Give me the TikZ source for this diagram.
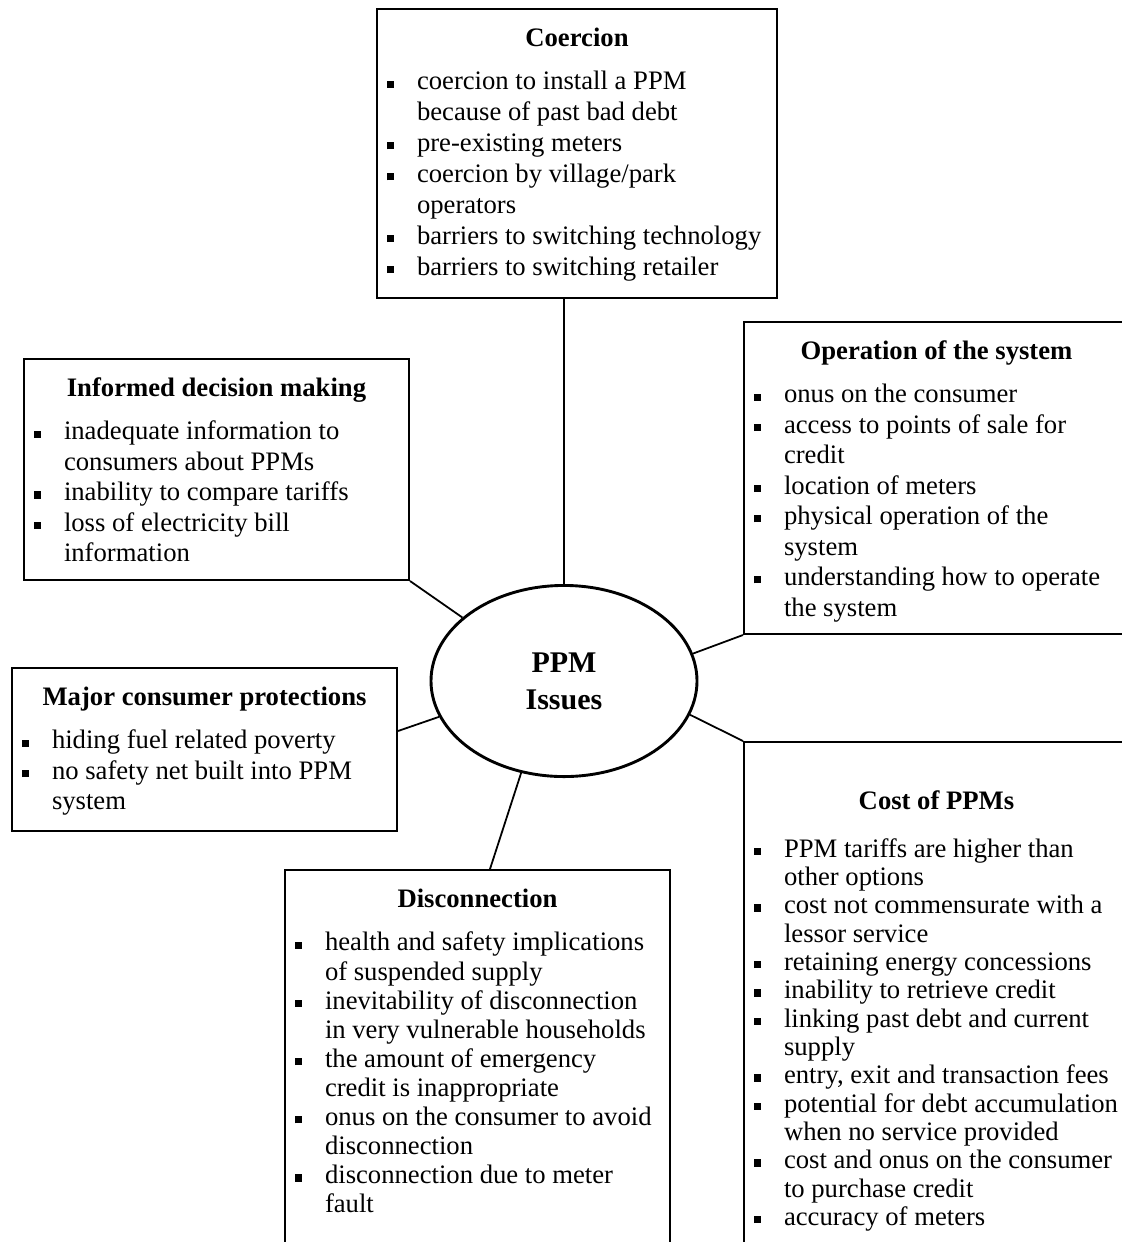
\documentclass[tikz,border=0pt]{standalone}
\usepackage{fontspec}
\setmainfont{Liberation Serif}
\usetikzlibrary{positioning}
\usetikzlibrary{calc}
\usetikzlibrary{shapes.geometric}

% one bullet line of a box, later lines hang under the text
\newcommand{\itm}[1]{\par\noindent\hangindent=18pt\hangafter=1%
  \hspace*{4.5pt}\makebox[13.5pt][l]{\rule[1pt]{3.2pt}{3.2pt}}#1\par}
% box body: [heading drop], height, width, gap, heading, items
\newcommand{\boxbody}[6][17pt]{\begin{minipage}[t][#2][t]{#3}%
  {\centering\rule{0pt}{#1}\textbf{#5}\par}\vspace{#4}#6\end{minipage}}

\begin{document}
\begin{tikzpicture}[
        x=0.45pt, y=-0.45pt,
        box/.style={draw, line width=0.9pt, inner sep=0pt, anchor=north west,
                    font=\fontsize{12}{13.7}\selectfont},
        hub/.style={draw, ellipse, line width=1.3pt, inner sep=0pt,
                    minimum width=119.7pt, minimum height=86pt, align=center,
                    font=\bfseries\fontsize{13.5}{16.7}\selectfont},
        link/.style={line width=0.8pt}
    ]
        \useasboundingbox (0,0) rectangle (1122,1242);
        \clip (0,0) rectangle (1122,1242);

        \node[hub] (ppm) at (564,681) {PPM\\Issues};

        \node[box, font=\fontsize{12}{13.9}\selectfont] (coer) at (376,8)
            {\boxbody{130.05pt}{180pt}{5.5pt}{Coercion}{%
            \itm{coercion to install a PPM\\because of past bad debt}
            \itm{pre-existing meters}
            \itm{coercion by village/park\\operators}
            \itm{barriers to switching technology}
            \itm{barriers to switching retailer}}};
        \node[box] (info) at (23,358)
            {\boxbody{99.45pt}{173.25pt}{5.7pt}{Informed decision making}{%
            \itm{inadequate information to\\consumers about PPMs}
            \itm{inability to compare tariffs}
            \itm{loss of electricity bill\\information}}};
        \node[box] (oper) at (743,321)
            {\boxbody{140.4pt}{173.25pt}{5.7pt}{Operation of the system}{%
            \itm{onus on the consumer}
            \itm{access to points of sale for\\credit}
            \itm{location of meters}
            \itm{physical operation of the\\system}
            \itm{understanding how to operate\\the system}}};
        \node[box] (prot) at (11,667)
            {\boxbody{73.35pt}{173.25pt}{5.7pt}{Major consumer protections}{%
            \itm{hiding fuel related poverty}
            \itm{no safety net built into PPM\\system}}};
        \node[box, font=\fontsize{12}{12.75}\selectfont] (cost) at (743,741)
            {\boxbody[30.2pt]{234pt}{173.25pt}{8.85pt}{Cost of PPMs}{%
            \itm{PPM tariffs are higher than\\other options}
            \itm{cost not commensurate with a\\lessor service}
            \itm{retaining energy concessions}
            \itm{inability to retrieve credit}
            \itm{linking past debt and current\\supply}
            \itm{entry, exit and transaction fees}
            \itm{potential for debt accumulation\\when no service provided}
            \itm{cost and onus on the consumer\\to purchase credit}
            \itm{accuracy of meters}}};
        \node[box, font=\fontsize{12}{13.1}\selectfont] (disc) at (284,869)
            {\boxbody{180pt}{173.25pt}{6.3pt}{Disconnection}{%
            \itm{health and safety implications\\of suspended supply}
            \itm{inevitability of disconnection\\in very vulnerable households}
            \itm{the amount of emergency\\credit is inappropriate}
            \itm{onus on the consumer to avoid\\disconnection}
            \itm{disconnection due to meter\\fault}}};

        \draw[link] (ppm.north) -- (ppm.north |- coer.south);
        \draw[link] (info.south east) -- (ppm.148);
        \draw[link] ($(prot.north east)+(0,64)$) -- (ppm.196);
        \draw[link] (oper.south west) -- (ppm.12);
        \draw[link] (cost.north west) -- (ppm.345);
        \draw[link] ($(disc.north west)+(206,0)$) -- (ppm.245);
    \end{tikzpicture}
\end{document}
